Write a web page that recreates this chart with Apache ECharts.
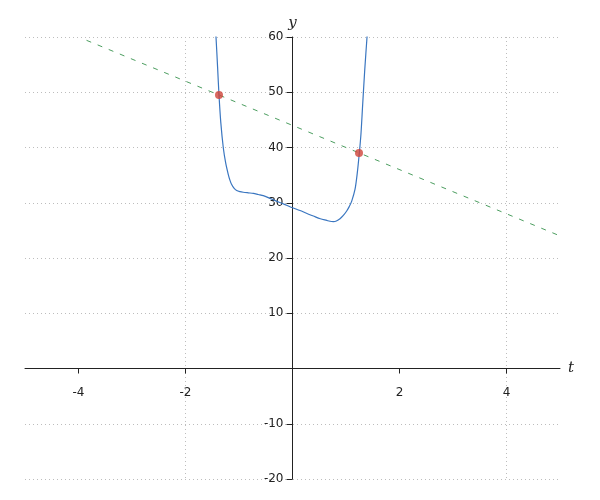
<!DOCTYPE html>
<html>
<head>
<meta charset="utf-8">
<script src="https://cdn.jsdelivr.net/npm/echarts@6/dist/echarts.min.js"></script>
<style>
	html, body { margin: 0; padding: 0; background: #fff; }
	#chart { width: 600px; height: 500px; }
</style>
</head>
<body>
<div id="chart"></div>
<script>
// values
var curveT = [-1.47, -1.43, -1.40, -1.374, -1.34, -1.293, -1.249, -1.2, -1.17, -1.137, -1.09, -1.043, -0.98, -0.92, -0.83, -0.73, -0.64, -0.546, -0.42, -0.3, -0.2, -0.1, 0.0, 0.14, 0.26, 0.389, 0.52, 0.64, 0.70, 0.763, 0.82, 0.888, 0.95, 1.013, 1.06, 1.107, 1.168, 1.211, 1.249, 1.28, 1.31, 1.35, 1.393, 1.42];
var curveY = [66, 60, 54.5, 49.5, 44.5, 39.9, 37.2, 35.1, 34.1, 33.3, 32.6, 32.2, 32.0, 31.9, 31.8, 31.7, 31.5, 31.3, 30.8, 30.3, 29.9, 29.5, 29.1, 28.6, 28.1, 27.6, 27.1, 26.8, 26.65, 26.6, 26.7, 27.1, 27.7, 28.5, 29.3, 30.3, 32.4, 35.4, 39.0, 42.5, 47.5, 54, 60, 64];
var lineT = [-3.85, 5];
var lineY = [59.4, 24];
var pointT = [-1.374, 1.243];
var pointY = [49.5, 39.0];
var xRange = [-5, 5];
var yRange = [-20, 60];
var xTickValues = [-4, -2, 2, 4];

var chart = {
	gridBox : { left: 25, right: 40, top: 37, bottom: 21 },

	initial : function initial() {
		this.myChart = echarts.init(document.getElementById('chart'));
		this.drawChart();
	},

	pairs : function pairs(xs, ys) {
		var list = [];
		for (var i = 0; i < xs.length; i++) {
			list.push([xs[i], ys[i]]);
		}
		return list;
	},

	drawChart : function drawChart() {
		var g = this.gridBox;
		var plotW = 600 - g.left - g.right;
		var plotH = 500 - g.top - g.bottom;
		// move both axes to the origin (labels follow the axis this way)
		var yOffset = -(0 - xRange[0]) / (xRange[1] - xRange[0]) * plotW;
		var xOffset = -(0 - yRange[0]) / (yRange[1] - yRange[0]) * plotH;

		var labelFont = { fontFamily: 'DejaVu Sans', fontSize: 12, color: '#222' };
		var nameFont = { fontFamily: 'DejaVu Serif', fontStyle: 'italic', fontSize: 15, color: '#222' };
		var option = {
			animation: false,
			backgroundColor: '#fff',
			grid: { left: g.left, right: g.right, top: g.top, bottom: g.bottom, containLabel: false, outerBoundsMode: 'none' },
			xAxis: {
				type: 'value',
				position: 'bottom',
				offset: xOffset,
				min: xRange[0],
				max: xRange[1],
				interval: 1,
				name: 't',
				nameLocation: 'end',
				nameGap: 8,
				nameTextStyle: nameFont,
				axisLine: { onZero: false, lineStyle: { color: '#222', width: 1 } },
				axisTick: { show: true, length: 5, customValues: xTickValues, lineStyle: { color: '#222' } },
				axisLabel: {
					customValues: xTickValues,
					margin: 18,
					fontFamily: labelFont.fontFamily, fontSize: labelFont.fontSize, color: labelFont.color
				},
				splitLine: {
					show: true,
					// only every second unit gets a grid line
					lineStyle: { color: ['transparent', '#bdbdbd'], type: [1, 3], width: 1 }
				}
			},
			yAxis: {
				type: 'value',
				position: 'left',
				offset: yOffset,
				min: yRange[0],
				max: yRange[1],
				interval: 10,
				name: 'y',
				nameLocation: 'end',
				nameGap: 6,
				nameTextStyle: nameFont,
				axisLine: { onZero: false, lineStyle: { color: '#222', width: 1 } },
				axisTick: { show: true, length: 6, lineStyle: { color: '#222' } },
				axisLabel: {
					margin: 9,
					fontFamily: labelFont.fontFamily, fontSize: labelFont.fontSize, color: labelFont.color,
					formatter: function(v) { return v === 0 ? '' : String(v); }
				},
				splitLine: { show: true, lineStyle: { color: '#bdbdbd', type: [1, 3], width: 1 } }
			},
			series: [
				{
					type: 'line',
					data: this.pairs(lineT, lineY),
					showSymbol: false,
					lineStyle: { color: '#4c9e60', width: 1, type: [5, 7] },
					z: 2
				},
				{
					type: 'line',
					data: this.pairs(curveT, curveY),
					showSymbol: false,
					smooth: 0.3,
					clip: true,
					lineStyle: { color: '#3a76c0', width: 1.2 },
					z: 3
				},
				{
					type: 'scatter',
					data: this.pairs(pointT, pointY),
					symbolSize: 8,
					itemStyle: { color: '#d0433a' },
					z: 4
				}
			]
		};
		this.myChart.setOption(option);
	}
};

chart.initial();
</script>
</body>
</html>
